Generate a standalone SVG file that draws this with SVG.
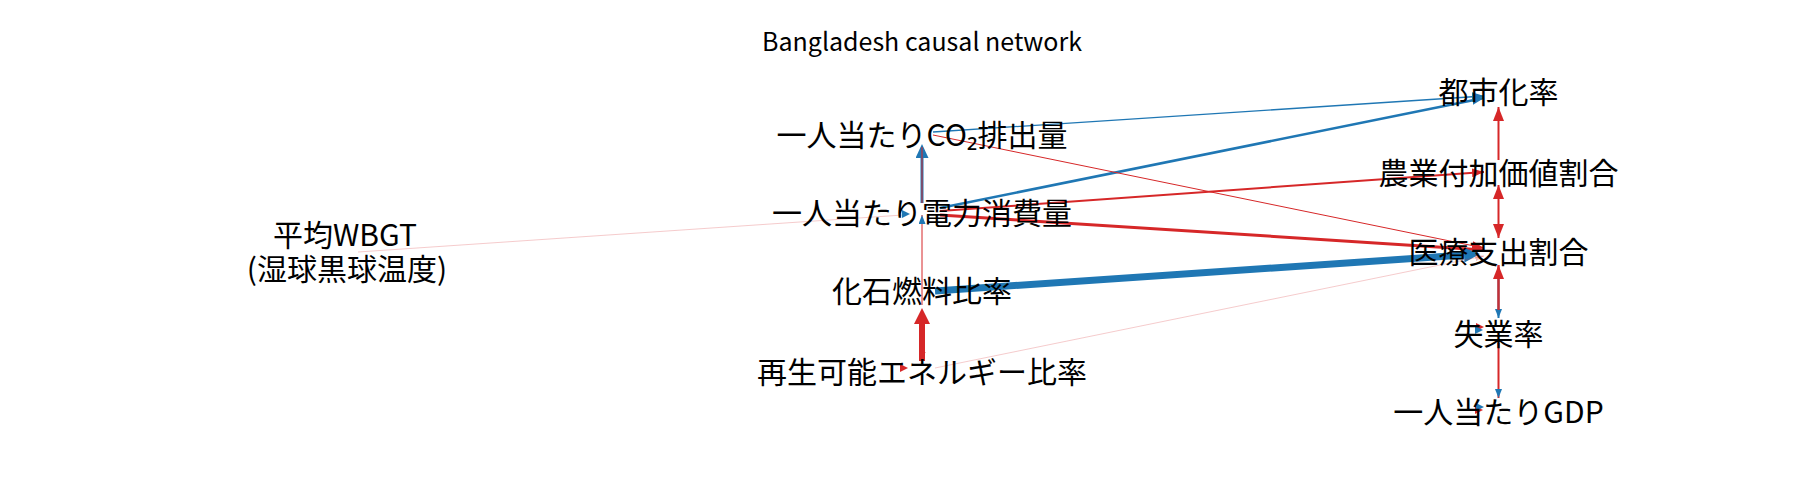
<svg xmlns="http://www.w3.org/2000/svg" width="1800" height="500" viewBox="0 0 1800 500">
<style>
text { font-family: "Noto Sans CJK JP", "Noto Sans", sans-serif; fill: #000; }
.lbl { font-size: 30px; text-anchor: middle; }
.title { font-size: 25px; text-anchor: middle; }
.e { fill: none; }
.b { stroke: #1f77b4; }
.r { stroke: #d62728; }
.p { stroke: #d62728; stroke-opacity: 0.3; }
</style>
<defs>
  <marker id="mB" viewBox="0 0 12 9" refX="12" refY="4.5" markerWidth="12" markerHeight="9" markerUnits="userSpaceOnUse" orient="auto-start-reverse"><path d="M0,0 L12,4.5 L0,9 Z" fill="#1f77b4"/></marker>
  <marker id="mR" viewBox="0 0 12 9" refX="12" refY="4.5" markerWidth="12" markerHeight="9" markerUnits="userSpaceOnUse" orient="auto-start-reverse"><path d="M0,0 L12,4.5 L0,9 Z" fill="#d62728"/></marker>
  <marker id="mBs" viewBox="0 0 9 7" refX="9" refY="3.5" markerWidth="9" markerHeight="7" markerUnits="userSpaceOnUse" orient="auto-start-reverse"><path d="M0,0 L9,3.5 L0,7 Z" fill="#1f77b4"/></marker>
  <marker id="mRs" viewBox="0 0 9 7" refX="9" refY="3.5" markerWidth="9" markerHeight="7" markerUnits="userSpaceOnUse" orient="auto-start-reverse"><path d="M0,0 L9,3.5 L0,7 Z" fill="#d62728"/></marker>
  <marker id="mPs" viewBox="0 0 9 7" refX="9" refY="3.5" markerWidth="9" markerHeight="7" markerUnits="userSpaceOnUse" orient="auto-start-reverse"><path d="M0,0 L9,3.5 L0,7 Z" fill="#d62728" fill-opacity="0.3"/></marker>
  <marker id="mR2" viewBox="0 0 14 11" refX="14" refY="5.5" markerWidth="14" markerHeight="11" markerUnits="userSpaceOnUse" orient="auto-start-reverse"><path d="M0,0 L14,5.5 L0,11 Z" fill="#d62728"/></marker>
  <marker id="mBL" viewBox="0 0 14 13" refX="0" refY="6.5" markerWidth="14" markerHeight="13" markerUnits="userSpaceOnUse" orient="auto-start-reverse"><path d="M0,0 L14,6.5 L0,13 Z" fill="#1f77b4"/></marker>
  <marker id="mBX" viewBox="0 0 16 15" refX="0" refY="7.5" markerWidth="16" markerHeight="15" markerUnits="userSpaceOnUse" orient="auto-start-reverse"><path d="M0,0 L16,7.5 L0,15 Z" fill="#1f77b4"/></marker>
  <marker id="mRL" viewBox="0 0 16 16" refX="0" refY="8" markerWidth="16" markerHeight="16" markerUnits="userSpaceOnUse" orient="auto-start-reverse"><path d="M0,0 L16,8 L0,16 Z" fill="#d62728"/></marker>
  <path id="loop" d="M-8,-4 L0,0 L-8,4 Z"/>
</defs>
<rect width="1800" height="500" fill="#ffffff"/>
<text class="title" x="922" y="51">Bangladesh causal network</text>

<g id="connectors">
  <path class="e b" stroke-width="1.3" d="M933,132 L1484,96" marker-end="url(#mB)"/>
  <path class="e b" stroke-width="2.5" d="M940,208 L1484,98" marker-end="url(#mB)"/>
  <path class="e r" stroke-width="1" d="M933,135 L1484,248" marker-end="url(#mR)"/>
  <path class="e r" stroke-width="2" d="M940,211 L1484,172" marker-end="url(#mR)"/>
  <path class="e r" stroke-width="3" d="M940,215 L1484,250" marker-end="url(#mR)"/>
  <path class="e b" stroke-width="7" d="M935,291 L1464,255" marker-end="url(#mBX)"/>
  <path class="e p" stroke-width="0.8" d="M935,368 L1484,256" marker-end="url(#mPs)"/>
  <path class="e p" stroke-width="0.8" d="M358,252 L903,215"/>
  <path class="e b" stroke-width="3" d="M922,203 L922,158" marker-end="url(#mBL)"/>
  <path class="e r" stroke-width="1" d="M922,203 L922,147"/>
  <path class="e r" stroke-width="1" d="M922,305 L922,215" marker-end="url(#mBs)"/>
  <path class="e r" stroke-width="6" d="M922,361 L922,324" marker-start="url(#mRs)" marker-end="url(#mRL)"/>
  <path class="e r" stroke-width="2" d="M1498.5,160 L1498.5,107" marker-end="url(#mR2)"/>
  <path class="e r" stroke-width="2" d="M1498.5,185 L1498.5,238" marker-start="url(#mR2)" marker-end="url(#mR2)"/>
  <path class="e b" stroke-width="2" d="M1498.5,268 L1498.5,318" marker-end="url(#mBs)"/>
  <path class="e r" stroke-width="2.5" stroke-opacity="0.9" d="M1498.5,310 L1498.5,265" marker-end="url(#mR2)"/>
  <path class="e r" stroke-width="2" d="M1498.5,343 L1498.5,398" marker-end="url(#mBs)"/>
  <use href="#loop" transform="translate(910,214)" fill="#1f77b4"/>
  <use href="#loop" transform="translate(908,368)" fill="#d62728"/>
  <use href="#loop" transform="translate(1484,327)" fill="#d62728"/>
  <use href="#loop" transform="translate(1483,330)" fill="#1f77b4"/>
  <use href="#loop" transform="translate(1483,410)" fill="#d62728"/>
  <use href="#loop" transform="translate(1484,407)" fill="#1f77b4"/>
</g>

<g id="node-co2"><text class="lbl" x="922" y="146">一人当たりCO₂排出量</text></g>
<g id="node-elec"><text class="lbl" x="922" y="224">一人当たり電力消費量</text></g>
<g id="node-fossil"><text class="lbl" x="922" y="302">化石燃料比率</text></g>
<g id="node-renew"><text class="lbl" x="922" y="383">再生可能エネルギー比率</text></g>
<g id="node-wbgt"><text class="lbl"><tspan x="345" y="246">平均WBGT</tspan><tspan x="347" y="280">(湿球黒球温度)</tspan></text></g>
<g id="node-urban"><text class="lbl" x="1498.5" y="103">都市化率</text></g>
<g id="node-agri"><text class="lbl" x="1498.5" y="184">農業付加価値割合</text></g>
<g id="node-health"><text class="lbl" x="1498.5" y="263">医療支出割合</text></g>
<g id="node-unemp"><text class="lbl" x="1498.5" y="345">失業率</text></g>
<g id="node-gdp"><text class="lbl" x="1498.5" y="423">一人当たりGDP</text></g>
</svg>
